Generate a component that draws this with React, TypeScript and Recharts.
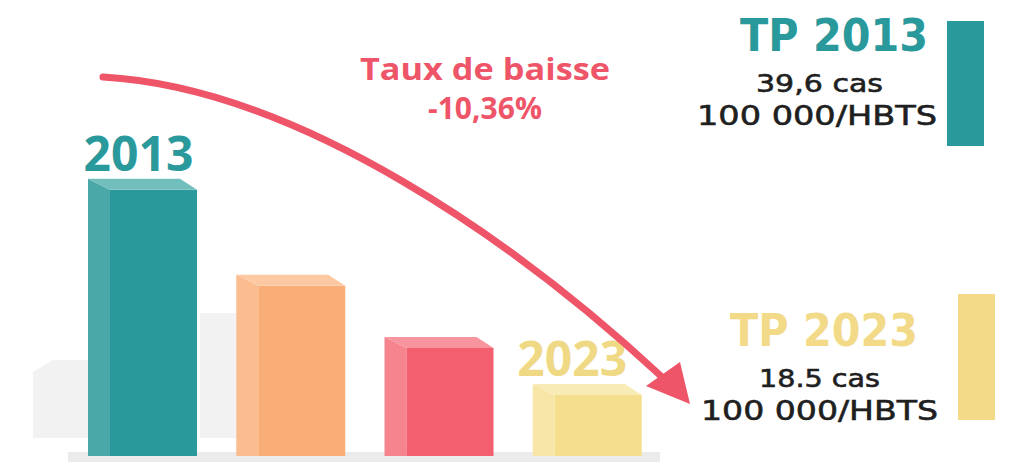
import React from 'react';
import { BarChart, Bar, XAxis, YAxis, LabelList } from 'recharts';

// bar heights, scaled so the first bar is 39.6
const years = ['2013', '2016', '2019', '2023'];
const heights = [39.6, 25.9, 17.0, 10.3];
const barLabels = ['2013', '', '', '2023'];
const labelDx = [-4, 0, 0, -15];

const PALETTE = [
  { front: '#2a999b', side: '#4aa8a8', top: '#72bebd', text: '#2a999b' }, // teal
  { front: '#f9ae77', side: '#fbbd8f', top: '#fcc9a3', text: '#f9ae77' }, // orange
  { front: '#f45f70', side: '#f6848f', top: '#f8949d', text: '#f45f70' }, // red
  { front: '#f5df8f', side: '#f7e6a8', top: '#f9ebb6', text: '#f0d985' }, // yellow
];

const RED = '#ef5568';
const TEAL = '#2a999b';
const YELLOW = '#f2da88';
const INK = '#1f1f1f';

const data = years.map((year, idx) => ({ year, value: heights[idx], idx }));

const Bar3D = (props: any) => {
  const { x, y, width, height, payload } = props;
  const c = PALETTE[payload.idx];
  const side = 22;
  const depth = 11;
  const bevel = 17;
  const bottom = y + height;
  return (
    <g>
      <polygon
        points={`${x},${y} ${x + side},${y + depth} ${x + side},${bottom} ${x},${bottom}`}
        fill={c.side}
      />
      <rect x={x + side} y={y + depth} width={width - side} height={height - depth} fill={c.front} />
      <polygon
        points={`${x},${y} ${x + width - bevel},${y} ${x + width},${y + depth} ${x + side},${y + depth}`}
        fill={c.top}
      />
    </g>
  );
};

const renderYearLabel = (props: any) => {
  const { x, y, width, index } = props;
  const label = barLabels[index];
  if (!label) return null;
  return (
    <text
      x={x + width / 2 + labelDx[index]}
      y={y - 8}
      textAnchor="middle"
      fontFamily="'Open Sans', sans-serif"
      fontWeight={700}
      fontSize={48}
      fill={PALETTE[index].text}
    >
      {label}
    </text>
  );
};

const layer: React.CSSProperties = { position: 'absolute', left: 0, top: 0 };

export default function App() {
  return (
    <div style={{ position: 'absolute', left: 0, top: 0, width: 1011, height: 469, background: '#fff', overflow: 'hidden' }}>
      {/* light grey backdrop behind the bars */}
      <svg width={1011} height={469} style={layer}>
        <polygon points="33,372 53,360 88,360 88,438 33,438" fill="#f2f2f2" />
        <rect x={200} y={313} width={36} height={125} fill="#f2f2f2" />
        <rect x={68} y={452} width={592} height={10} fill="#ebebeb" />
      </svg>

      <div style={layer}>
        <BarChart
          width={1011}
          height={469}
          data={data}
          margin={{ top: 176, right: 350, bottom: 13, left: 68 }}
          barSize={109}
        >
          <XAxis dataKey="year" hide />
          <YAxis hide domain={[0, 40]} />
          <Bar dataKey="value" shape={<Bar3D />} isAnimationActive={false}>
            <LabelList dataKey="year" content={renderYearLabel} />
          </Bar>
        </BarChart>
      </div>

      <svg width={1011} height={469} style={layer}>
        {/* curved arrow */}
        <path
          d="M103,77 C300,88 520,245 662,377"
          fill="none"
          stroke={RED}
          strokeWidth={7}
          strokeLinecap="round"
        />
        <polygon points="690,404 646,386 680,362" fill={RED} />

        <text x={485} y={80} textLength={250} lengthAdjust="spacingAndGlyphs" textAnchor="middle" fontFamily="'Open Sans', sans-serif" fontWeight={700} fontSize={31} fill={RED}>
          Taux de baisse
        </text>
        <text x={485} y={119} textAnchor="middle" fontFamily="'Open Sans', sans-serif" fontWeight={700} fontSize={30} fill={RED}>
          -10,36%
        </text>

        {/* TP 2013 */}
        <text x={740} y={51} textLength={188} lengthAdjust="spacingAndGlyphs" fontFamily="'DejaVu Sans', sans-serif" fontWeight={700} fontSize={45} fill={TEAL}>
          TP 2013
        </text>
        <text x={756} y={92} textLength={127} lengthAdjust="spacingAndGlyphs" fontFamily="'DejaVu Sans', sans-serif" fontSize={25} fill={INK} stroke={INK} strokeWidth={0.6}>
          39,6 cas
        </text>
        <text x={697} y={125} textLength={240} lengthAdjust="spacingAndGlyphs" fontFamily="'DejaVu Sans', sans-serif" fontSize={27} fill={INK} stroke={INK} strokeWidth={0.6}>
          100 000/HBTS
        </text>
        <rect x={947} y={21} width={37} height={125} fill={TEAL} />

        {/* TP 2023 */}
        <text x={730} y={346} textLength={188} lengthAdjust="spacingAndGlyphs" fontFamily="'DejaVu Sans', sans-serif" fontWeight={700} fontSize={45} fill={YELLOW}>
          TP 2023
        </text>
        <text x={759} y={387} textLength={121} lengthAdjust="spacingAndGlyphs" fontFamily="'DejaVu Sans', sans-serif" fontSize={25} fill={INK} stroke={INK} strokeWidth={0.6}>
          18.5 cas
        </text>
        <text x={701} y={420} textLength={237} lengthAdjust="spacingAndGlyphs" fontFamily="'DejaVu Sans', sans-serif" fontSize={27} fill={INK} stroke={INK} strokeWidth={0.6}>
          100 000/HBTS
        </text>
        <rect x={958} y={294} width={37} height={126} fill={YELLOW} />
      </svg>
    </div>
  );
}
